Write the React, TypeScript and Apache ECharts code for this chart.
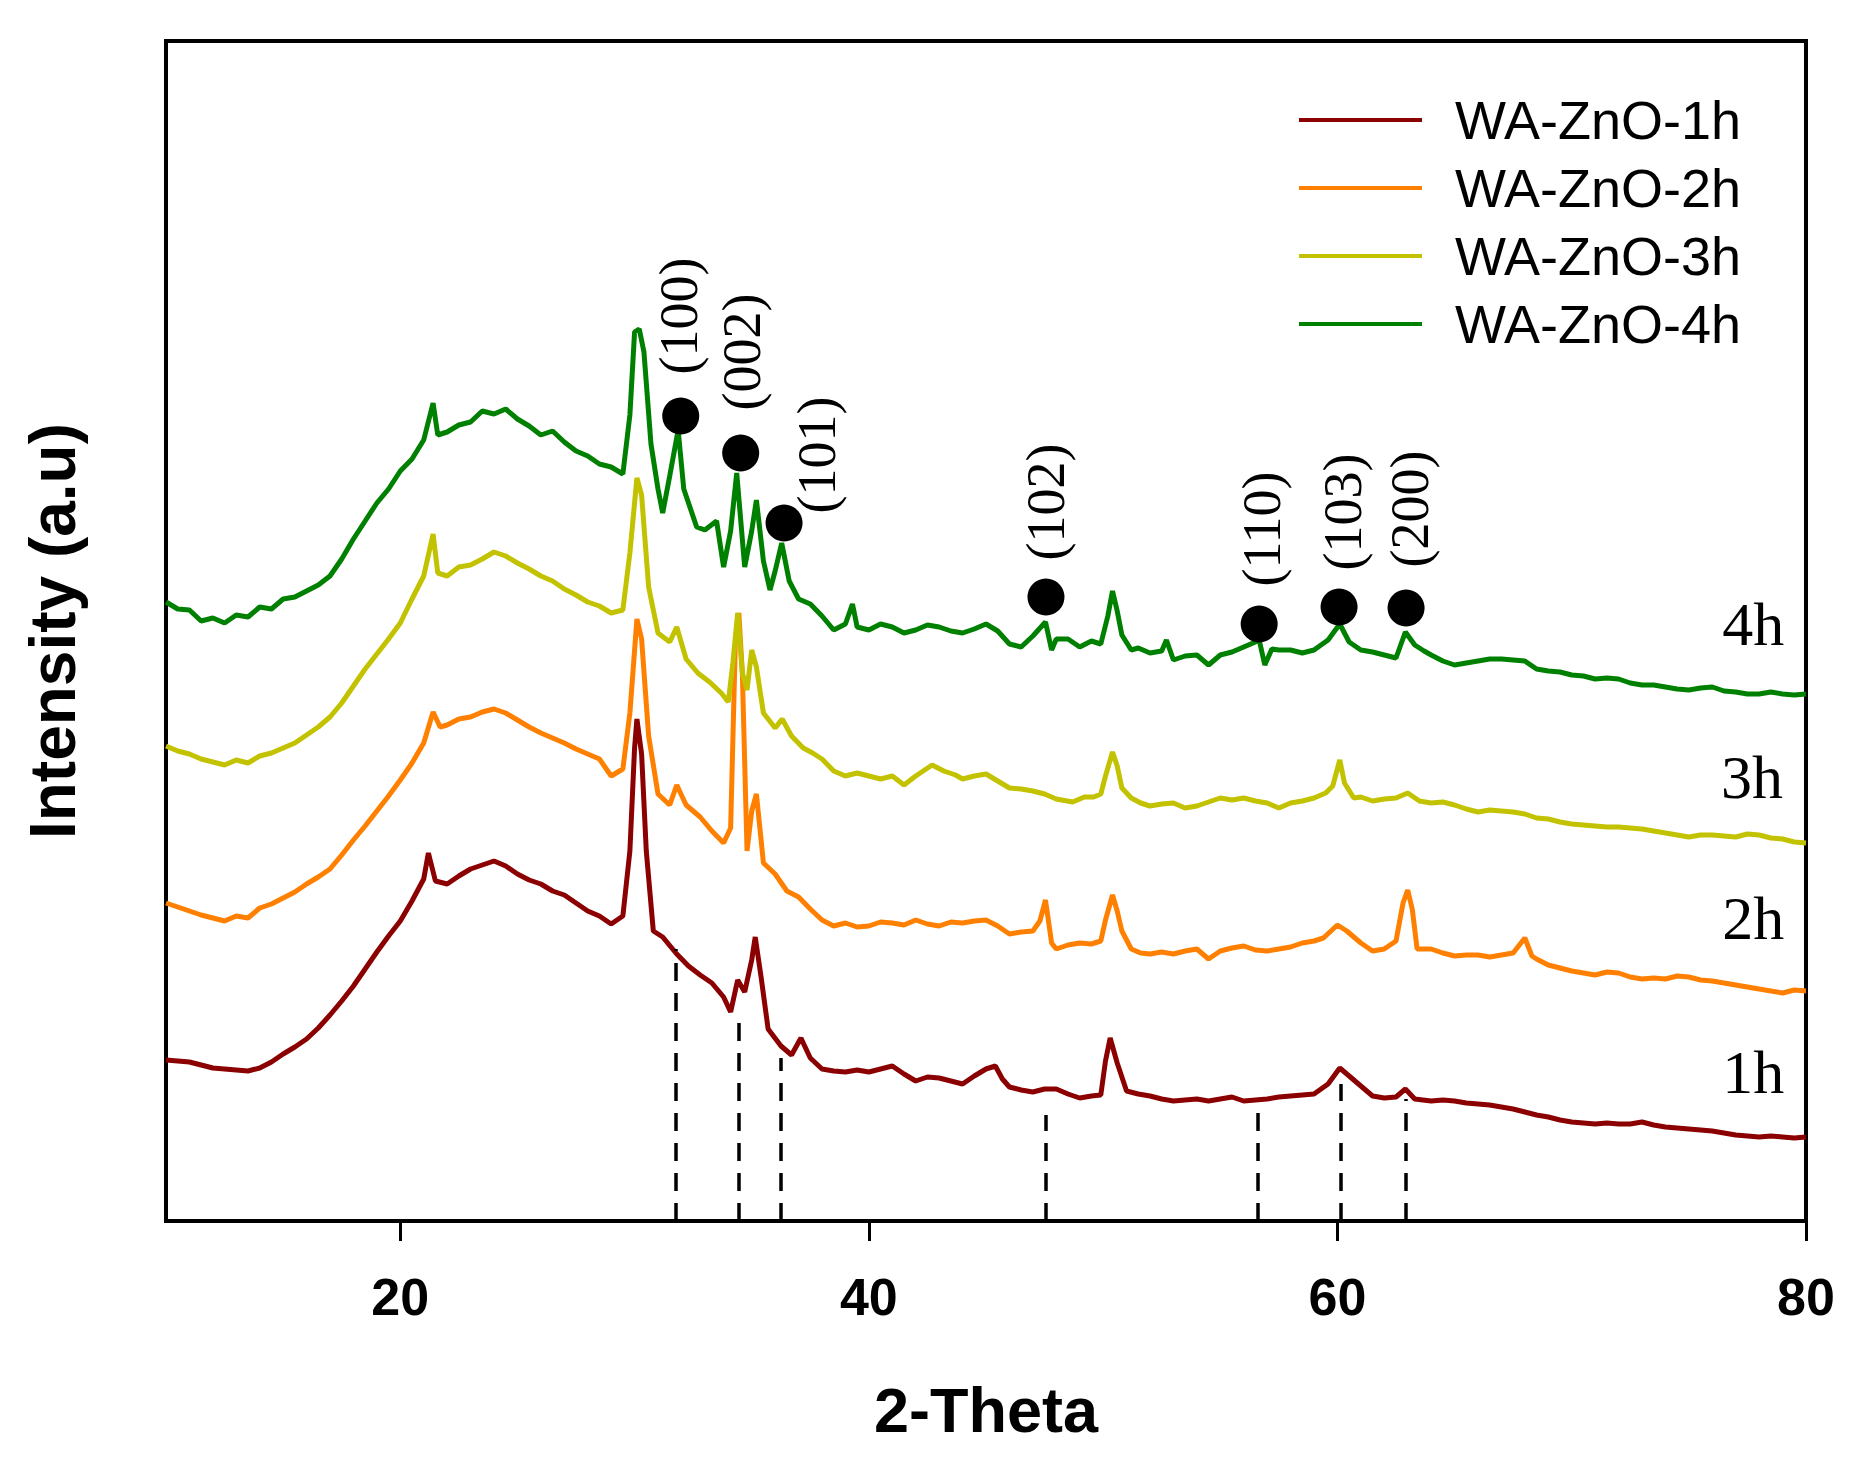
import { useEffect, useRef } from "react";
import * as echarts from "echarts";

const seriesNames = ["WA-ZnO-1h", "WA-ZnO-2h", "WA-ZnO-3h", "WA-ZnO-4h"];
const seriesColors = ["#8b0000", "#ff8000", "#c2c200", "#008000"];
const xTicks = [20, 40, 60, 80];

// [2-theta, intensity (a.u.)]
const scan1h = [
  [10, 161], [10.5, 160], [11, 159], [11.5, 156], [12, 153], [12.5, 152], [13, 151], [13.5, 150],
  [14, 153], [14.5, 159], [15, 167], [15.5, 174], [16, 182], [16.5, 193], [17, 206], [17.5, 220],
  [18, 235], [18.5, 252], [19, 269], [19.5, 285], [20, 300], [20.5, 320], [21, 342], [21.2, 368],
  [21.5, 340], [22, 337], [22.5, 345], [23, 352], [23.5, 356], [24, 360], [24.5, 355], [25, 347],
  [25.5, 341], [26, 337], [26.5, 330], [27, 326], [27.5, 318], [28, 310], [28.5, 305], [29, 297],
  [29.5, 305], [29.8, 370], [30, 473], [30.1, 502], [30.3, 467], [30.5, 370], [30.8, 290], [31.2, 284],
  [31.8, 267], [32.3, 255], [32.8, 246], [33.3, 238], [33.8, 224], [34.1, 209], [34.4, 241], [34.7, 229],
  [35, 261], [35.15, 284], [35.4, 244], [35.7, 192], [36.25, 175], [36.7, 166], [37.1, 183], [37.5, 163],
  [38, 152], [38.5, 150], [39, 149], [39.5, 151], [40, 149], [40.5, 152], [41, 155], [41.5, 147],
  [42, 140], [42.5, 144], [43, 143], [43.5, 140], [44, 137], [44.5, 145], [45, 152], [45.4, 155],
  [45.7, 142], [46, 134], [46.5, 131], [47, 129], [47.5, 132], [48, 132], [48.5, 127], [49, 123],
  [49.5, 125], [49.9, 126], [50.1, 160], [50.3, 183], [50.6, 158], [51, 130], [51.5, 127], [52, 125],
  [52.5, 122], [53, 120], [53.5, 121], [54, 122], [54.5, 120], [55, 122], [55.5, 124], [56, 120],
  [56.5, 121], [57, 122], [57.5, 124], [58, 125], [58.5, 126], [59, 127], [59.6, 137], [60.1, 153],
  [60.5, 145], [61, 135], [61.5, 125], [62, 123], [62.5, 124], [62.9, 132], [63.3, 122], [64, 120],
  [64.5, 121], [65, 120], [65.5, 118], [66, 117], [66.5, 116], [67, 114], [67.5, 112], [68, 109],
  [68.5, 106], [69, 104], [69.5, 101], [70, 99], [70.5, 98], [71, 97], [71.5, 98], [72, 97],
  [72.5, 97], [73, 99], [73.5, 96], [74, 94], [74.5, 93], [75, 92], [75.5, 91], [76, 90],
  [76.5, 88], [77, 86], [77.5, 85], [78, 84], [78.5, 85], [79, 84], [79.5, 83], [80, 84],
];

const scan2h = [
  [10, 318], [10.5, 314], [11, 310], [11.5, 306], [12, 303], [12.5, 300], [13, 305], [13.5, 303],
  [14, 313], [14.5, 317], [15, 323], [15.5, 329], [16, 337], [16.5, 344], [17, 352], [17.5, 366],
  [18, 381], [18.5, 395], [19, 410], [19.5, 425], [20, 441], [20.5, 458], [21, 478], [21.4, 509],
  [21.7, 494], [22, 496], [22.5, 502], [23, 504], [23.5, 509], [24, 512], [24.5, 508], [25, 501],
  [25.5, 494], [26, 488], [26.5, 483], [27, 478], [27.5, 472], [28, 467], [28.5, 462], [29, 445],
  [29.5, 452], [29.8, 508], [30.1, 602], [30.3, 582], [30.6, 485], [31, 427], [31.5, 416], [31.8, 436],
  [32.2, 416], [32.8, 404], [33.3, 390], [33.8, 378], [34.1, 393], [34.3, 577], [34.45, 608], [34.6, 548],
  [34.8, 370], [35, 410], [35.2, 427], [35.5, 358], [36, 347], [36.5, 330], [37, 324], [37.5, 312],
  [38, 301], [38.5, 295], [39, 298], [39.5, 294], [40, 295], [40.5, 299], [41, 298], [41.5, 296],
  [42, 301], [42.5, 297], [43, 295], [43.5, 299], [44, 298], [44.5, 300], [45, 301], [45.5, 295],
  [46, 287], [46.5, 289], [47, 290], [47.3, 300], [47.54, 321], [47.8, 278], [48, 272], [48.5, 276],
  [49, 278], [49.5, 277], [49.9, 280], [50.1, 301], [50.4, 326], [50.6, 310], [50.8, 290], [51.2, 272],
  [51.6, 268], [52, 267], [52.5, 269], [53, 267], [53.5, 270], [54, 272], [54.5, 262], [55, 270],
  [55.5, 273], [56, 275], [56.5, 271], [57, 270], [57.5, 272], [58, 274], [58.5, 278], [59, 280],
  [59.4, 283], [60, 296], [60.4, 290], [61, 278], [61.5, 270], [62, 272], [62.5, 280], [62.8, 318],
  [63, 331], [63.2, 311], [63.4, 272], [64, 272], [64.5, 268], [65, 265], [65.5, 266], [66, 266],
  [66.5, 264], [67, 266], [67.5, 268], [68, 283], [68.3, 265], [68.5, 262], [69, 256], [69.5, 253],
  [70, 250], [70.5, 248], [71, 246], [71.5, 249], [72, 248], [72.5, 244], [73, 242], [73.5, 243],
  [74, 242], [74.5, 245], [75, 244], [75.5, 241], [76, 240], [76.5, 238], [77, 236], [77.5, 234],
  [78, 232], [78.5, 230], [79, 228], [79.5, 231], [80, 230],
];

const scan3h = [
  [10, 475], [10.5, 470], [11, 467], [11.5, 462], [12, 459], [12.5, 456], [13, 461], [13.5, 458],
  [14, 465], [14.5, 468], [15, 473], [15.5, 478], [16, 486], [16.5, 494], [17, 504], [17.5, 518],
  [18, 535], [18.5, 552], [19, 567], [19.5, 582], [20, 598], [20.5, 622], [21, 645], [21.4, 687],
  [21.6, 648], [22, 645], [22.5, 654], [23, 656], [23.5, 662], [24, 669], [24.5, 665], [25, 658],
  [25.5, 652], [26, 645], [26.5, 640], [27, 632], [27.5, 626], [28, 619], [28.5, 615], [29, 608],
  [29.5, 611], [29.8, 668], [30.1, 743], [30.3, 726], [30.6, 634], [31, 588], [31.5, 579], [31.8, 594],
  [32.2, 562], [32.7, 548], [33.2, 539], [33.7, 528], [34, 519], [34.2, 559], [34.4, 608], [34.6, 548],
  [34.8, 531], [35, 571], [35.2, 554], [35.5, 508], [36, 493], [36.3, 502], [36.7, 485], [37.2, 473],
  [37.6, 468], [38, 462], [38.5, 450], [39, 445], [39.5, 448], [40, 445], [40.5, 442], [41, 445],
  [41.5, 436], [42, 445], [42.7, 456], [43.2, 450], [43.7, 446], [44, 442], [44.5, 445], [45, 447],
  [45.5, 440], [46, 433], [46.5, 432], [47, 430], [47.5, 427], [48, 422], [48.7, 419], [49.2, 424],
  [49.6, 424], [49.9, 427], [50.1, 445], [50.4, 469], [50.6, 455], [50.8, 433], [51.2, 423], [51.6, 418],
  [52, 415], [52.5, 417], [53, 418], [53.5, 413], [54, 415], [54.5, 419], [55, 423], [55.5, 421],
  [56, 423], [56.5, 420], [57, 418], [57.5, 413], [58, 418], [58.5, 420], [59, 423], [59.5, 428],
  [59.8, 435], [60.1, 461], [60.3, 438], [60.7, 423], [61, 424], [61.5, 420], [62, 422], [62.5, 423],
  [63, 428], [63.5, 420], [64, 418], [64.5, 419], [65, 416], [65.5, 412], [66, 409], [66.5, 411],
  [67, 410], [67.5, 409], [68, 407], [68.5, 403], [69, 402], [69.5, 399], [70, 397], [70.5, 396],
  [71, 395], [71.5, 394], [72, 394], [72.5, 393], [73, 392], [73.5, 390], [74, 388], [74.5, 386],
  [75, 384], [75.5, 386], [76, 386], [76.5, 385], [77, 384], [77.5, 387], [78, 386], [78.5, 383],
  [79, 382], [79.5, 379], [80, 378],
];

const scan4h = [
  [10, 619], [10.5, 612], [11, 611], [11.5, 600], [12, 603], [12.5, 598], [13, 606], [13.5, 604],
  [14, 614], [14.5, 612], [15, 622], [15.5, 624], [16, 630], [16.5, 636], [17, 645], [17.5, 662],
  [18, 682], [18.5, 700], [19, 718], [19.5, 732], [20, 750], [20.5, 762], [21, 781], [21.4, 818],
  [21.6, 786], [22, 789], [22.5, 796], [23, 799], [23.5, 810], [24, 807], [24.5, 812], [25, 802],
  [25.5, 795], [26, 786], [26.5, 790], [27, 779], [27.5, 770], [28, 765], [28.5, 757], [29, 754],
  [29.5, 747], [29.8, 806], [30, 889], [30.2, 892], [30.4, 869], [30.7, 777], [31, 732], [31.2, 708],
  [31.5, 745], [31.86, 791], [32.1, 732], [32.65, 694], [33, 691], [33.5, 700], [33.8, 654], [34.1, 690],
  [34.36, 748], [34.7, 654], [35, 690], [35.2, 721], [35.5, 660], [35.78, 631], [36, 650], [36.28, 678],
  [36.6, 640], [36.8, 631], [37, 622], [37.5, 617], [38, 605], [38.5, 591], [39, 597], [39.3, 617],
  [39.5, 594], [40, 591], [40.5, 597], [41, 594], [41.5, 588], [42, 591], [42.5, 596], [43, 594],
  [43.5, 590], [44, 588], [44.5, 592], [45, 597], [45.5, 590], [46, 577], [46.5, 574], [47, 585],
  [47.54, 599], [47.8, 571], [48, 582], [48.5, 582], [49, 574], [49.5, 580], [49.9, 577], [50.2, 605],
  [50.4, 630], [50.6, 610], [50.8, 586], [51.2, 571], [51.5, 573], [52, 568], [52.5, 570], [52.7, 581],
  [53, 561], [53.5, 565], [54, 566], [54.5, 556], [55, 566], [55.5, 569], [56, 574], [56.4, 578],
  [56.66, 581], [56.9, 556], [57.2, 572], [57.5, 571], [58, 571], [58.5, 568], [59, 571], [59.6, 581],
  [60.1, 597], [60.5, 579], [61, 571], [61.5, 569], [62, 566], [62.5, 563], [62.9, 589], [63.3, 576],
  [63.7, 570], [64, 566], [64.5, 560], [65, 556], [65.5, 558], [66, 560], [66.5, 562], [67, 562],
  [67.5, 561], [68, 560], [68.5, 552], [69, 550], [69.5, 549], [70, 546], [70.5, 545], [71, 542],
  [71.5, 543], [72, 542], [72.5, 538], [73, 536], [73.5, 536], [74, 534], [74.5, 532], [75, 531],
  [75.5, 533], [76, 534], [76.5, 530], [77, 529], [77.5, 527], [78, 527], [78.5, 529], [79, 527],
  [79.5, 526], [80, 527],
];

const scans = [scan1h, scan2h, scan3h, scan4h];

// ZnO reflections: dashed reference lines, marker dots and hkl labels
const hklNames = ["(100)", "(002)", "(101)", "(102)", "(110)", "(103)", "(200)"];
const dropTheta = [31.77, 34.45, 36.25, 47.54, 56.58, 60.14, 62.93];
const dropTop = [272, 209, 163, 106, 109, 137, 122];
const dotTheta = [31.97, 34.53, 36.38, 47.56, 56.66, 60.07, 62.93];
const dotHeight = [805, 768, 698, 624, 597, 614, 613];
const hklTheta = [31.9, 34.57, 37.77, 47.58, 56.76, 60.23, 63.09];
const hklHeight = [905, 869, 766, 719, 692, 709, 712];

const sampleLabels = ["1h", "2h", "3h", "4h"];
const sampleTheta = [77.75, 77.75, 77.7, 77.75];
const sampleHeight = [149, 303, 444, 597];

const SANS = "'Liberation Sans', Arial, sans-serif";
const SERIF = "'Liberation Serif', 'Times New Roman', serif";

export default function App() {
  const chartRef = useRef<HTMLDivElement>(null);

  useEffect(() => {
    if (!chartRef.current) return;
    const chart = echarts.init(chartRef.current, undefined, { renderer: "svg" });

    const lineSeries: any[] = scans.map((scan, i) => ({
      name: seriesNames[i],
      type: "line",
      data: scan,
      color: seriesColors[i],
      showSymbol: false,
      symbol: "none",
      lineStyle: { color: seriesColors[i], width: 5 },
      z: 3,
    }));

    // text-only scatter points (hkl indices, sample names)
    const textStyle = {
      show: true,
      position: "inside",
      align: "center",
      verticalAlign: "middle",
      fontFamily: SERIF,
      color: "#000",
      opacity: 1,
    };

    const option: echarts.EChartsOption = {
      animation: false,
      backgroundColor: "#fff",
      grid: {
        left: 166,
        right: 49,
        top: 41,
        bottom: 241,
        show: true,
        borderColor: "#000",
        borderWidth: 4,
      },
      legend: {
        data: seriesNames,
        orient: "vertical",
        left: 1294,
        top: 88,
        icon: "rect",
        itemWidth: 123,
        itemHeight: 4,
        itemGap: 14,
        selectedMode: false,
        textStyle: {
          fontFamily: SANS,
          fontSize: 54,
          lineHeight: 54,
          color: "#000",
          padding: [0, 0, 0, 28],
        },
      },
      xAxis: {
        type: "value",
        min: 10,
        max: 80,
        name: "2-Theta",
        nameLocation: "middle",
        nameGap: 157,
        nameTextStyle: { fontFamily: SANS, fontWeight: "bold", fontSize: 63, color: "#000" },
        axisLine: { show: false },
        axisTick: {
          show: true,
          customValues: xTicks,
          length: 20,
          lineStyle: { color: "#000", width: 3 },
        },
        axisLabel: {
          customValues: xTicks,
          margin: 50,
          fontFamily: SANS,
          fontWeight: "bold",
          fontSize: 52,
          color: "#000",
        },
        splitLine: { show: false },
      },
      yAxis: {
        type: "value",
        min: 0,
        max: 1180,
        name: "Intensity (a.u)",
        nameLocation: "middle",
        nameRotate: 90,
        nameGap: 81,
        nameTextStyle: { fontFamily: SANS, fontWeight: "bold", fontSize: 64, color: "#000" },
        axisLine: { show: false },
        axisTick: { show: false },
        axisLabel: { show: false },
        splitLine: { show: false },
      },
      series: [
        ...lineSeries,
        {
          name: "reflections",
          type: "scatter",
          data: dotTheta.map((t, i) => [t, dotHeight[i]]),
          symbol: "circle",
          symbolSize: 37,
          itemStyle: { color: "#000", opacity: 1 },
          z: 5,
          markLine: {
            silent: true,
            symbol: ["none", "none"],
            label: { show: false },
            lineStyle: { color: "#000", width: 3.5, type: [18, 12], opacity: 1 },
            data: dropTheta.map((t, i) => [
              { coord: [t, 0] },
              { coord: [t, dropTop[i]] },
            ]) as any,
          },
        },
        {
          name: "hkl",
          type: "scatter",
          data: hklTheta.map((t, i) => [t, hklHeight[i]]),
          symbolSize: 0,
          itemStyle: { color: "#000", opacity: 1 },
          z: 6,
          label: {
            ...textStyle,
            rotate: 90,
            fontSize: 54,
            formatter: (p: any) => hklNames[p.dataIndex],
          },
        } as any,
        {
          name: "samples",
          type: "scatter",
          data: sampleTheta.map((t, i) => [t, sampleHeight[i]]),
          symbolSize: 0,
          itemStyle: { color: "#000", opacity: 1 },
          z: 6,
          label: {
            ...textStyle,
            fontSize: 62,
            formatter: (p: any) => sampleLabels[p.dataIndex],
          },
        } as any,
      ],
    };

    chart.setOption(option);

    const handleResize = () => chart.resize();
    window.addEventListener("resize", handleResize);
    return () => {
      window.removeEventListener("resize", handleResize);
      chart.dispose();
    };
  }, []);

  return (
    <div
      ref={chartRef}
      style={{ position: "fixed", left: 0, top: 0, width: "1855px", height: "1462px", background: "#fff" }}
    />
  );
}
